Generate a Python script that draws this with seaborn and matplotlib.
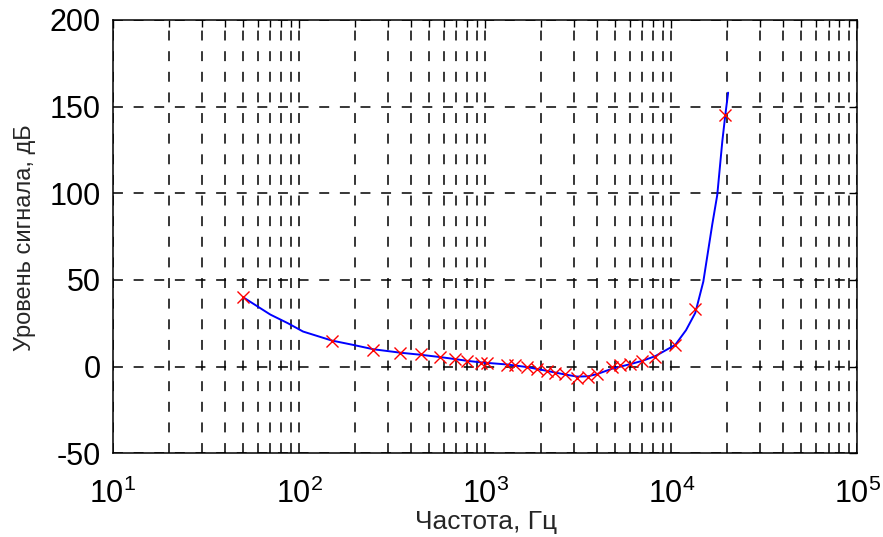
import matplotlib
matplotlib.use("Agg")
import matplotlib.pyplot as plt
import matplotlib.ticker as mticker
import numpy as np
import pandas as pd
import seaborn as sns

# Measured points (frequency, Hz / signal level, dB)
freq_pts = [50, 150, 250, 350, 450, 570, 690, 800, 950, 1025, 1310, 1450,
            1680, 1900, 2150, 2380, 2690, 3120, 3580, 4000, 4820, 5320,
            6020, 6990, 8200, 10500, 13460, 19500]
level_pts = [40, 15, 9.5, 8, 7, 5.5, 4.3, 3.2, 2.3, 1.8, 1.0, 1.0,
             -0.3, -1.4, -2.6, -3.5, -4.5, -6.5, -6.3, -4.5, 0.0, 0.8,
             1.3, 3.3, 5.8, 12.7, 33, 145]

# Smoothed response curve
freq_curve = [50, 70, 87, 105, 150, 195, 250, 350, 450, 570, 690, 800, 950,
              1310, 1680, 2150, 2690, 3120, 3580, 4000, 4820, 6020, 6990,
              8200, 10500, 12000, 13460, 14860, 16600, 17660, 18800, 19500,
              20200]
level_curve = [40, 30, 25, 20.2, 15, 12.5, 10, 8, 6.8, 5.5, 4.3, 3.3, 2.4,
               1.2, -0.3, -2.5, -4.6, -5.8, -5.6, -4.3, -1.2, 1.4, 3.3,
               6, 12.5, 21, 31, 49, 82, 99, 130, 145, 158]

x_ticks = [1e1, 1e2, 1e3, 1e4, 1e5]
y_ticks = [-50, 0, 50, 100, 150, 200]

sns.set_style("white")
plt.rcParams["font.family"] = ["Liberation Sans", "DejaVu Sans"]
plt.rcParams["mathtext.fontset"] = "custom"
plt.rcParams["mathtext.rm"] = "Liberation Sans"
plt.rcParams["mathtext.it"] = "Liberation Sans"
plt.rcParams["mathtext.bf"] = "Liberation Sans"
plt.rcParams["axes.unicode_minus"] = False

fig = plt.figure(figsize=(8.83, 5.37), dpi=100)
ax = fig.add_axes([0.128, 0.156, 0.843, 0.807])

curve = pd.DataFrame({"f": freq_curve, "L": level_curve})
pts = pd.DataFrame({"f": freq_pts, "L": level_pts})

ax.set_xscale("log")
ax.set_xlim(1e1, 1e5)
ax.set_ylim(-50, 200)

# dashed grid on every decade subdivision
grid_kw = dict(color="black", linewidth=1.1, linestyle=(0, (6.5, 7.0)), zorder=0)
ax.xaxis.set_major_locator(mticker.FixedLocator(x_ticks))
ax.xaxis.set_minor_locator(mticker.LogLocator(base=10, subs=np.arange(2, 10)))
ax.set_yticks(y_ticks)
ax.grid(True, which="major", axis="both", **grid_kw)
ax.grid(True, which="minor", axis="x", **grid_kw)

sns.lineplot(data=curve, x="f", y="L", ax=ax, color="#0000ff",
             linewidth=1.4, sort=False, estimator=None, zorder=3)
sns.scatterplot(data=pts, x="f", y="L", ax=ax, marker="x", color="#ff0000",
                s=75, linewidth=1.0, zorder=4)

ax.xaxis.set_major_formatter(mticker.LogFormatterSciNotation())
ax.xaxis.set_minor_formatter(mticker.NullFormatter())
ax.tick_params(which="both", direction="in", top=True, right=True,
               labelsize=22, colors="black", width=1.0)
ax.tick_params(which="major", length=6)
ax.tick_params(which="minor", length=5)
ax.tick_params(axis="x", pad=18)
ax.tick_params(axis="y", pad=9)

for s in ax.spines.values():
    s.set_visible(True)
    s.set_color("black")
    s.set_linewidth(1.1)

ax.set_xlabel("Частота, Гц", fontsize=19)
ax.set_ylabel("Уровень сигнала, дБ", fontsize=17)
ax.xaxis.set_label_coords(0.501, -0.130)
ax.yaxis.set_label_coords(-0.104, 0.497)

fig.savefig("out.png", dpi=100, facecolor="white")
